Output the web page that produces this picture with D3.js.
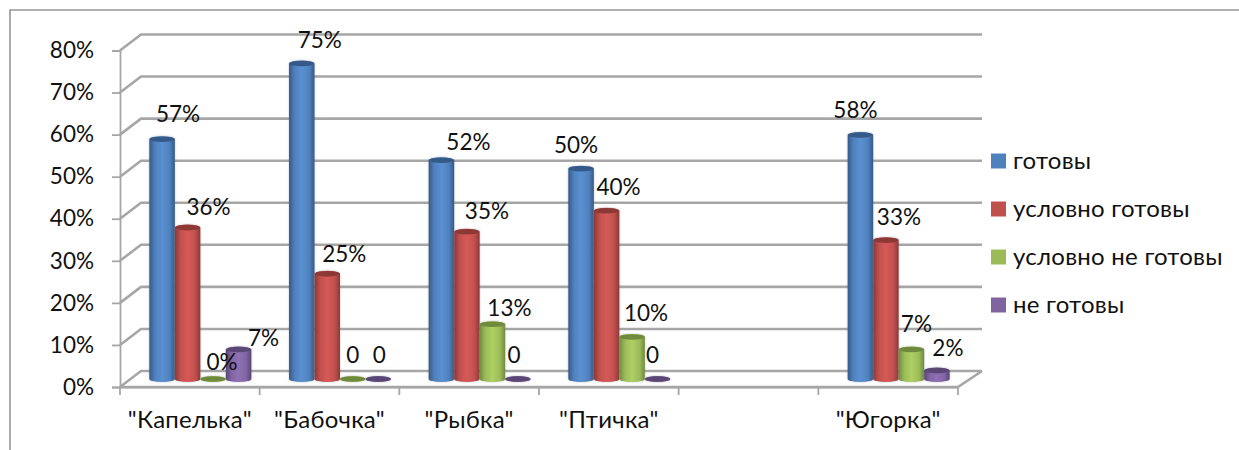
<!DOCTYPE html>
<html>
<head>
<meta charset="utf-8">
<script src="https://cdn.jsdelivr.net/npm/d3@7"></script>
<style>
  html, body { margin: 0; padding: 0; background: #fff; }
  svg { display: block; }
  text { font-family: "Lato", "Open Sans", sans-serif; fill: #111; }
</style>
</head>
<body>
<svg width="1239" height="450"></svg>
<script>
// categories and series (the fifth slot is empty)
var categories = ['"Капелька"', '"Бабочка"', '"Рыбка"', '"Птичка"', ' ', '"Югорка"'];
var seriesNames = ['готовы', 'условно готовы', 'условно не готовы', 'не готовы'];
var gotovy = [57, 75, 52, 50, null, 58];
var uslovnoGotovy = [36, 25, 35, 40, null, 33];
var uslovnoNeGotovy = [0, 0, 13, 10, null, 7];
var neGotovy = [7, 0, 0, 0, null, 2];
var yTicks = [0, 10, 20, 30, 40, 50, 60, 70, 80];
var zeroText = ['0%', '0', '0', '0', '', '0'];

// hand placed data labels: offset of the label centre from the top of its bar
var labelDx = [[16, 18, 27, -5, 0, -5], [21, 17, 20, 12, 0, 13], [9, 0, 17, 14, 0, 5], [25, 1, -4, -5, 0, 11]];
var labelDy = [[-25, -23, -18, -24, 0, -25], [-20, -20, -21, -24, 0, -23], [-17, -24, -16, -24, 0, -25], [-11, -24, -24, -24, 0, -22]];

var seriesValues = [gotovy, uslovnoGotovy, uslovnoNeGotovy, neGotovy];

var color = {
  main: ['#4F81BD', '#C0504D', '#9BBB59', '#8064A2'],
  light: ['#5A90D2', '#D65A56', '#ADD063', '#8F70B5'],
  dark: ['#345A88', '#8C3836', '#6F8A3E', '#5A4675'],
  grid: '#A6A6A6',
  frame: '#979797'
};

var depth = { x: 21, y: -16 };
var backRight = 982;
var fontSize = 22.5;
var svg = d3.select('svg');

var x = d3.scaleBand().domain(categories).range([120, 958]);
var y = d3.scaleLinear().domain([0, 80]).range([387, 50.5]);
var inner = d3.scaleBand().domain(d3.range(4)).range([0, 102]);

var defs = svg.append('defs');

defs.append('filter').attr('id', 'soft').attr('x', '-20%').attr('y', '-20%').attr('width', '140%').attr('height', '140%')
  .append('feGaussianBlur').attr('stdDeviation', 0.7);

var glow = defs.append('filter').attr('id', 'glow').attr('x', '-30%').attr('y', '-10%').attr('width', '160%').attr('height', '120%');
glow.append('feGaussianBlur').attr('in', 'SourceGraphic').attr('stdDeviation', 0.6).attr('result', 'b');
glow.append('feDropShadow').attr('in', 'b').attr('dx', 0).attr('dy', 0).attr('stdDeviation', 1.3).attr('flood-color', '#777').attr('flood-opacity', 0.45);

color.main.forEach(function(c, i) {
  var g = defs.append('linearGradient').attr('id', 'cyl' + i);
  g.append('stop').attr('offset', '0%').attr('stop-color', color.dark[i]);
  g.append('stop').attr('offset', '22%').attr('stop-color', c);
  g.append('stop').attr('offset', '50%').attr('stop-color', color.light[i]);
  g.append('stop').attr('offset', '80%').attr('stop-color', c);
  g.append('stop').attr('offset', '100%').attr('stop-color', color.dark[i]);
});

// outer frame, only the top and left edges are in the picture
svg.append('path')
  .attr('d', 'M10,450V10H1239')
  .attr('fill', 'none').attr('stroke', color.frame).attr('stroke-width', 1.6);

// walls and floor of the 3d plot
var walls = svg.append('g').attr('filter', 'url(#soft)').attr('fill', 'none')
  .attr('stroke', color.grid).attr('stroke-width', 2.6);

walls.selectAll('path.grid').data(yTicks).join('path').attr('class', 'grid')
  .attr('d', function(t) {
    return 'M' + x.range()[0] + ',' + y(t) + 'l' + depth.x + ',' + depth.y + 'H' + backRight;
  });
walls.append('path')
  .attr('d', 'M' + x.range()[0] + ',' + y(0) + 'H' + x.range()[1] + 'L' + backRight + ',' + (y(0) + depth.y));

// axes
var yAxis = d3.axisLeft(y).tickValues(yTicks).tickSize(8).tickPadding(18).tickFormat(function(d) { return d + '%'; });
var yG = svg.append('g').attr('transform', 'translate(' + x.range()[0] + ',0)').call(yAxis);
var xAxis = d3.axisBottom(x).tickSize(0).tickPadding(24);
var xG = svg.append('g').attr('transform', 'translate(0,' + y(0) + ')').call(xAxis);

svg.selectAll('.domain').attr('stroke', color.grid).attr('stroke-width', 1.8);
yG.selectAll('line').attr('stroke', color.grid).attr('stroke-width', 1.8);
yG.selectAll('text').attr('font-size', fontSize).attr('font-family', null).style('fill', '#111');
// the cyrillic runs wider than the digits in the original font
xG.selectAll('text').attr('font-size', 24).attr('letter-spacing', 0.25).attr('font-family', null).style('fill', '#111');

// category separators sit on the band edges, so the axis ticks can't do them
xG.selectAll('line.sep').data(categories.map(function(c) { return x(c); }).concat(x.range()[1])).join('line')
  .attr('class', 'sep')
  .attr('x1', function(d) { return d; }).attr('x2', function(d) { return d; })
  .attr('y1', 0).attr('y2', 8)
  .attr('stroke', color.grid).attr('stroke-width', 1.8);

function barLeft(i, s) {
  return x(categories[i]) + x.bandwidth() / 2 - 51 + depth.x / 2 + inner(s);
}

function barTop(v) {
  return y(v) + depth.y / 2;
}

function cylinder(left, top, w, base) {
  var rx = w / 2, ry = 3;
  return 'M' + left + ',' + top +
    'A' + rx + ',' + ry + ' 0 0 1 ' + (left + w) + ',' + top +
    'V' + base +
    'A' + rx + ',' + ry + ' 0 0 1 ' + left + ',' + base + 'Z';
}

// cylinders, one group per series
var w = inner.bandwidth();
seriesValues.forEach(function(values, s) {
  var rows = values.map(function(v, i) { return { v: v, i: i }; }).filter(function(d) { return d.v !== null; });
  var g = svg.append('g').attr('filter', 'url(#glow)');

  g.selectAll('path').data(rows).join('path')
    .attr('fill', 'url(#cyl' + s + ')')
    .attr('d', function(d) { return cylinder(barLeft(d.i, s), barTop(d.v), w, barTop(0)); });

  g.selectAll('ellipse').data(rows).join('ellipse')
    .attr('cx', function(d) { return barLeft(d.i, s) + w / 2; })
    .attr('cy', function(d) { return barTop(d.v); })
    .attr('rx', w / 2 - 0.5).attr('ry', 2.8)
    .attr('fill', color.dark[s]);
});

// data labels
seriesValues.forEach(function(values, s) {
  var rows = values.map(function(v, i) { return { v: v, i: i }; }).filter(function(d) { return d.v !== null; });
  svg.append('g').selectAll('text').data(rows).join('text')
    .attr('x', function(d) { return barLeft(d.i, s) + w / 2 + labelDx[s][d.i]; })
    .attr('y', function(d) { return barTop(d.v) + labelDy[s][d.i]; })
    .attr('dy', '0.35em')
    .attr('text-anchor', 'middle')
    .attr('font-size', fontSize)
    .text(function(d) { return d.v === 0 ? zeroText[d.i] : d.v + '%'; });
});

// legend
var legendY = d3.scalePoint().domain(seriesNames).range([161, 305]);
var legend = svg.append('g').selectAll('g').data(seriesNames).join('g')
  .attr('transform', function(d) { return 'translate(991,' + legendY(d) + ')'; });
legend.append('rect').attr('y', -7.5).attr('width', 15).attr('height', 15)
  .attr('fill', function(d, i) { return color.main[i]; });
legend.append('text').attr('x', 22).attr('dy', '0.35em').attr('font-size', 24)
  .attr('letter-spacing', 0.25)
  .text(function(d) { return d; });
</script>
</body>
</html>
